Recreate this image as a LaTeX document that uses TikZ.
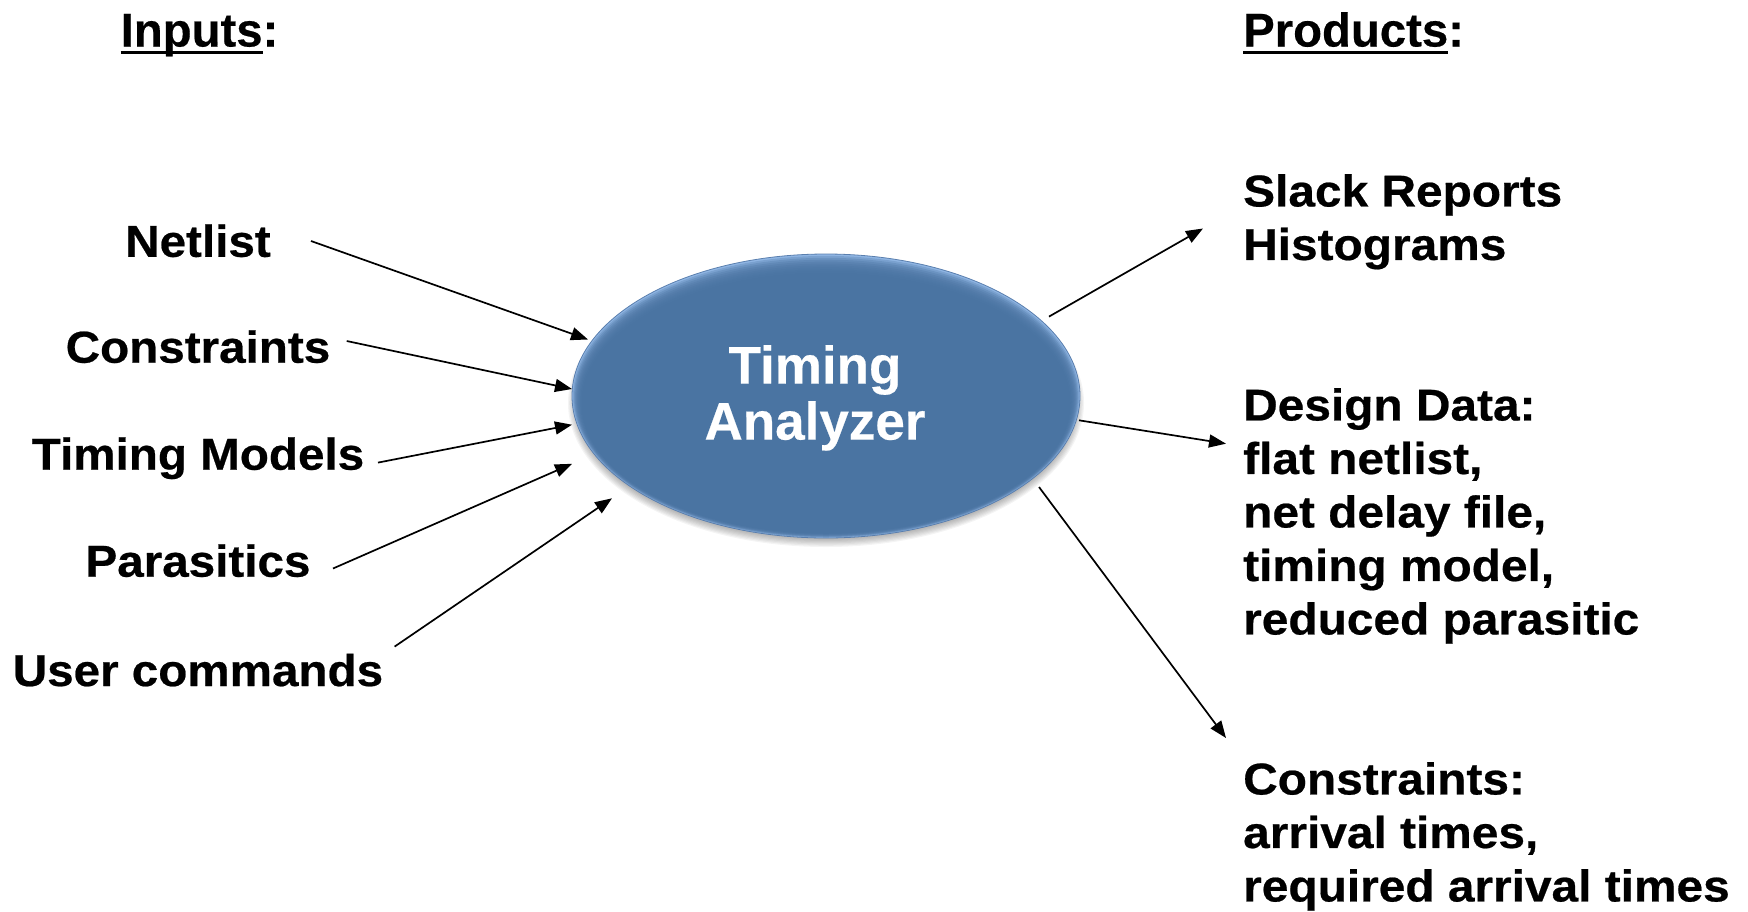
\documentclass[tikz,border=0pt]{standalone}
\usepackage{fontspec}
\setmainfont{Liberation Sans}[FakeBold=0.4]
\newfontfamily\fL{Liberation Sans}[FakeStretch=1.065,FakeBold=0.5]
\newfontfamily\fR{Liberation Sans}[FakeStretch=1.075,FakeBold=0.5]
\usetikzlibrary{arrows.meta}
\definecolor{ellblue}{HTML}{4A74A2}
\definecolor{ellrim}{HTML}{8FB5E3}
\definecolor{ellline}{HTML}{5A7FAE}
\newcommand\myul[1]{\setbox0\hbox{#1}\rlap{\rule[-7.5pt]{\wd0}{3.3pt}}\box0}
\tikzset{
 lbl/.style={anchor=base, inner sep=0pt, font=\fL\bfseries\fontsize{44.7}{53}\selectfont},
 rtxt/.style={anchor=north west, inner sep=0pt, align=left, font=\fR\bfseries\fontsize{44.5}{53.5}\selectfont},
 ttl/.style={anchor=base west, inner sep=0pt, font=\bfseries\fontsize{47.3}{56}\selectfont},
 arr/.style={-{Triangle[length=17pt,width=13pt]}, line width=1.7pt},
}
\begin{document}
\begin{tikzpicture}[x=1pt,y=-1pt]
\useasboundingbox (0,0) rectangle (1748,911);

% ellipse shadow
\foreach \i in {0,...,7}
  \fill[black, opacity=0.045] (826,403) ellipse ({258pt-\i*1.2pt} and {144pt-\i*1.2pt});
% ellipse body
\fill[ellrim] (826,396) ellipse (254pt and 142pt);
\foreach \i in {1,...,10}
  \fill[ellblue, opacity=0.3] (826,{396+\i*0.7}) ellipse ({254pt-\i*1.0pt} and {142pt-\i*1.2pt});
\fill[ellblue] (826,404) ellipse (243pt and 129pt);
\draw[ellline, line width=0.8pt] (826,396) ellipse (254pt and 142pt);

\node[anchor=north, inner sep=0pt, align=center, text=white,
      font=\bfseries\fontsize{53}{56}\selectfont] (ta) at (815,345) {Timing\\Analyzer};

% titles
\node[ttl] (inp) at (120.5,46.5) {\myul{Inputs}:};
\node[ttl] (prod) at (1243,46.5) {\myul{Products}:};

% inputs
\node[lbl] (n1) at (198,256.8) {Netlist};
\node[lbl] (n2) at (198,362.7) {Constraints};
\node[lbl] (n3) at (198,469.7) {Timing Models};
\node[lbl] (n4) at (198,576.7) {Parasitics};
\node[lbl] (n5) at (198,686) {User commands};

% products
\node[rtxt] (sr) at (1243,174) {Slack Reports\\Histograms};
\node[rtxt] (dd) at (1243,388) {Design Data:\\flat netlist,\\net delay file,\\timing model,\\reduced parasitic};
\node[rtxt] (rc) at (1243,762) {Constraints:\\arrival times,\\required arrival times};

% arrow ends
\coordinate (s1) at (311,241);   \coordinate (e1) at (588,339.5);
\coordinate (s2) at (346.7,341); \coordinate (e2) at (572,389);
\coordinate (s3) at (378,462.6); \coordinate (e3) at (572,424.7);
\coordinate (s4) at (333,568.5); \coordinate (e4) at (572,463.8);
\coordinate (s5) at (394.6,646.6); \coordinate (e5) at (612,498.3);
\coordinate (o1s) at (1049,316.6); \coordinate (o1e) at (1203,228.5);
\coordinate (o2s) at (1079,420.3); \coordinate (o2e) at (1226,443.7);
\coordinate (o3s) at (1039,487);   \coordinate (o3e) at (1226,738);

\draw[arr] (s1) -- (e1);
\draw[arr] (s2) -- (e2);
\draw[arr] (s3) -- (e3);
\draw[arr] (s4) -- (e4);
\draw[arr] (s5) -- (e5);
\draw[arr] (o1s) -- (o1e);
\draw[arr] (o2s) -- (o2e);
\draw[arr] (o3s) -- (o3e);
\end{tikzpicture}
\end{document}
